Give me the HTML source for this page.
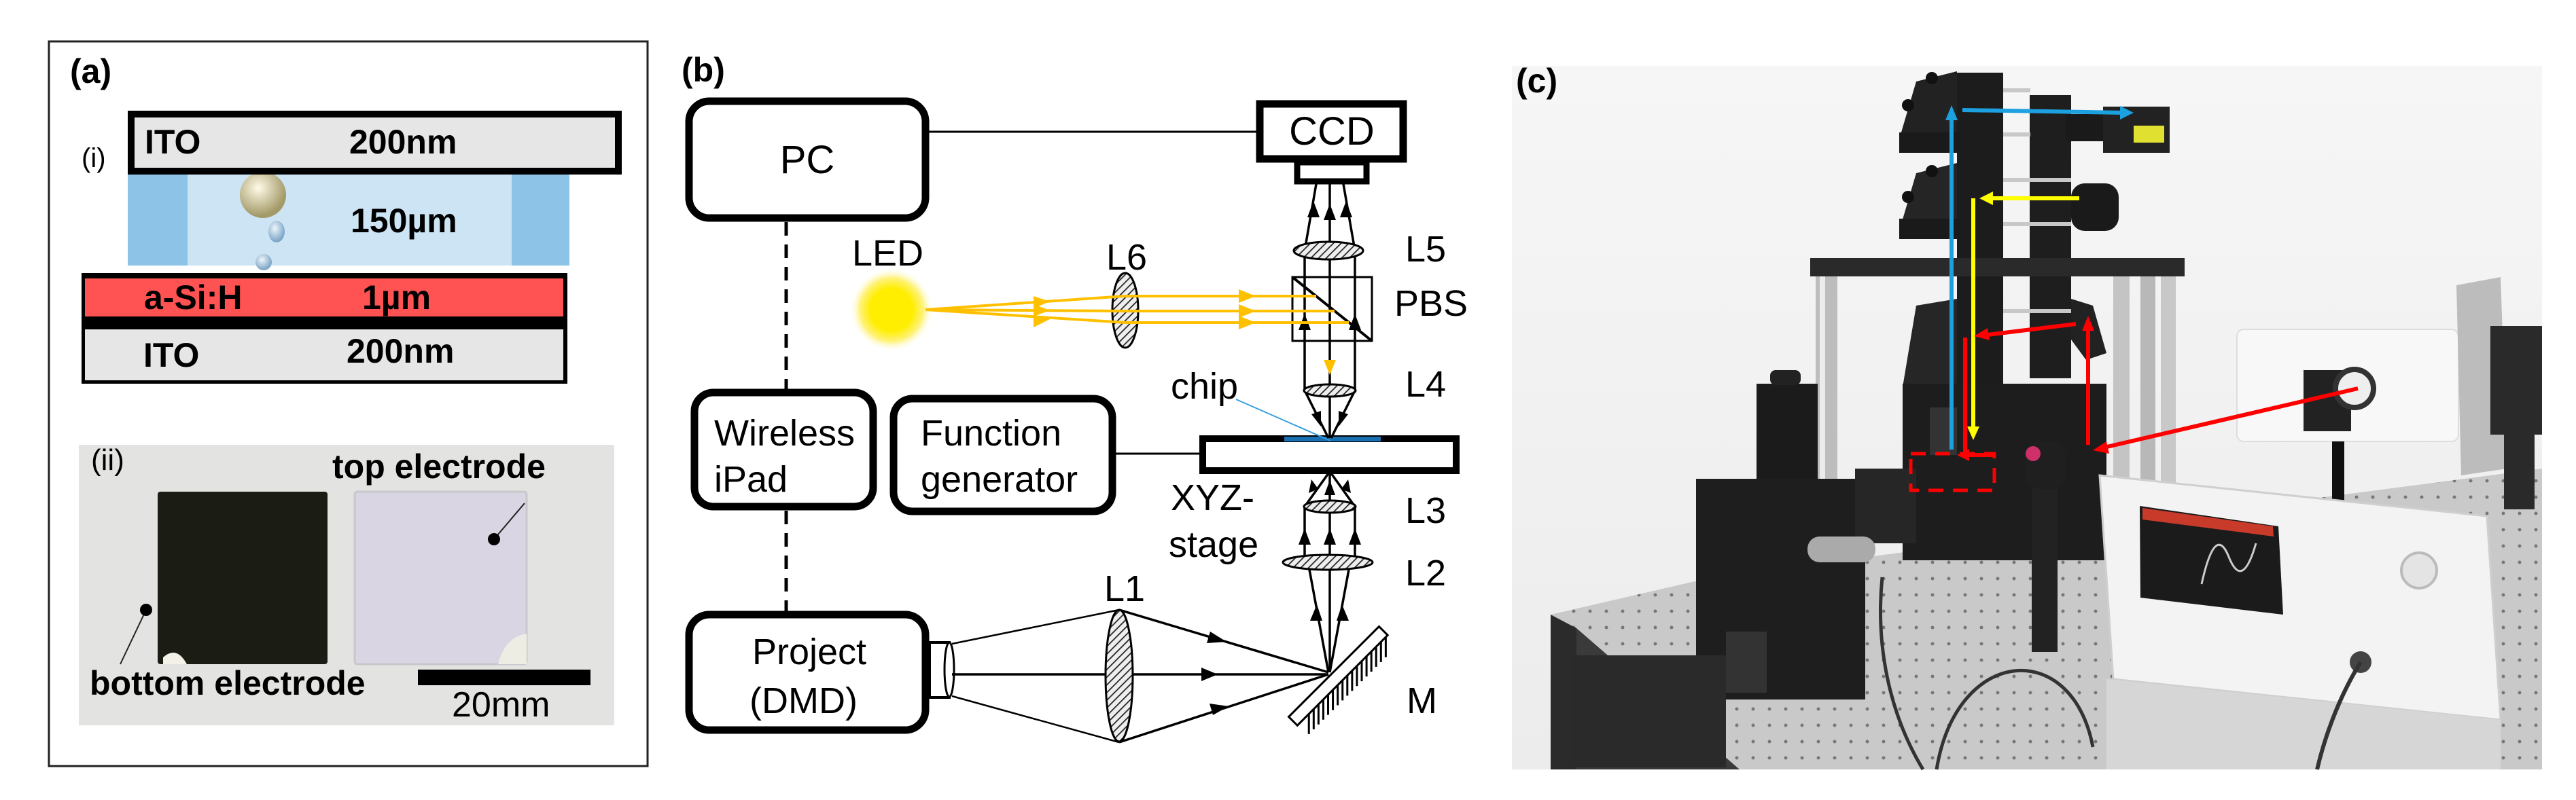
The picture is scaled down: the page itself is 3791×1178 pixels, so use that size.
<!DOCTYPE html>
<html><head><meta charset="utf-8"><style>
html,body{margin:0;padding:0;background:#fff;}
svg{display:block;}
text{font-family:"Liberation Sans",Arial,sans-serif;}
</style></head><body>
<svg width="3791" height="1178" viewBox="0 0 3791 1178" xmlns="http://www.w3.org/2000/svg">
<defs>
<pattern id="hatch" width="8" height="8" patternUnits="userSpaceOnUse" patternTransform="rotate(45)">
<rect width="8" height="8" fill="#eee"/><line x1="0" y1="0" x2="0" y2="8" stroke="#222" stroke-width="3.5"/>
</pattern>
<radialGradient id="led" cx="0.5" cy="0.5" r="0.5">
<stop offset="0" stop-color="#ffee00"/><stop offset="0.5" stop-color="#ffee00"/><stop offset="0.75" stop-color="#fff27a"/><stop offset="1" stop-color="#fff" stop-opacity="0"/>
</radialGradient>
<radialGradient id="bub" cx="0.4" cy="0.35" r="0.6"><stop offset="0" stop-color="#fffbe8"/><stop offset="1" stop-color="#a49a68"/></radialGradient>
<radialGradient id="bub2" cx="0.4" cy="0.35" r="0.6"><stop offset="0" stop-color="#eef6fc"/><stop offset="1" stop-color="#7fa7c8"/></radialGradient>
<linearGradient id="bgc" x1="0" y1="0" x2="0" y2="1"><stop offset="0" stop-color="#f6f6f6"/><stop offset="1" stop-color="#ececec"/></linearGradient>
<pattern id="holes" width="24" height="24" patternUnits="userSpaceOnUse"><rect width="24" height="24" fill="#c9c9c9"/><circle cx="12" cy="12" r="2.5" fill="#777"/></pattern>
</defs>

<!-- ============ PANEL A ============ -->
<rect x="72" y="61" width="881" height="1067" fill="#fff" stroke="#222" stroke-width="3"/>
<text x="103" y="122" font-size="50" font-weight="bold">(a)</text>
<text x="120" y="246" font-size="40">(i)</text>
<rect x="188" y="257" width="650" height="134" fill="#cde4f4"/>
<rect x="188" y="257" width="88" height="134" fill="#8dc3e6"/>
<rect x="753" y="257" width="85" height="134" fill="#8dc3e6"/>
<circle cx="387" cy="287" r="34" fill="url(#bub)"/>
<ellipse cx="407" cy="341" rx="12" ry="16" fill="url(#bub2)"/>
<ellipse cx="388" cy="386" rx="12" ry="12" fill="url(#bub2)"/>
<text x="516" y="342" font-size="50" font-weight="bold">150µm</text>
<rect x="193" y="168" width="717" height="84" fill="#e6e6e6" stroke="#000" stroke-width="10"/>
<text x="213" y="226" font-size="50" font-weight="bold">ITO</text>
<text x="514" y="226" font-size="50" font-weight="bold">200nm</text>
<rect x="120" y="402" width="715" height="163" fill="#000"/>
<rect x="125" y="410" width="704" height="56" fill="#ff5252"/>
<rect x="125" y="485" width="704" height="75" fill="#e6e6e6"/>
<text x="212" y="455" font-size="50" font-weight="bold">a-Si:H</text>
<text x="533" y="455" font-size="50" font-weight="bold">1µm</text>
<text x="211" y="540" font-size="50" font-weight="bold">ITO</text>
<text x="510" y="534" font-size="50" font-weight="bold">200nm</text>
<rect x="116" y="655" width="788" height="413" fill="#e3e3e1"/>
<text x="134" y="692" font-size="44">(ii)</text>
<rect x="232" y="724" width="250" height="254" rx="4" fill="#1b1d15"/>
<path d="M240,968 q20,-18 35,10 l-35,0z" fill="#f3f1e8"/>
<rect x="522" y="724" width="253" height="254" rx="4" fill="#d9d5e3" stroke="#c8c8cc" stroke-width="3"/>
<path d="M733,978 q10,-40 42,-45 l0,45z" fill="#eeede4"/>
<text x="489" y="704" font-size="50" font-weight="bold">top electrode</text>
<line x1="727" y1="794" x2="772" y2="741" stroke="#222" stroke-width="2"/>
<circle cx="727" cy="794" r="9" fill="#000"/>
<line x1="215" y1="898" x2="177" y2="978" stroke="#222" stroke-width="2"/>
<circle cx="215" cy="898" r="9" fill="#000"/>
<text x="132" y="1023" font-size="50" font-weight="bold">bottom electrode</text>
<rect x="615" y="986" width="254" height="23" fill="#000"/>
<text x="665" y="1055" font-size="52">20mm</text>

<!-- ============ PANEL B ============ -->
<text x="1003" y="120" font-size="50" font-weight="bold">(b)</text>
<g fill="none" stroke="#000" stroke-width="11">
<rect x="1014" y="149" width="348" height="172" rx="30"/>
<rect x="1022" y="578" width="263" height="168" rx="28"/>
<rect x="1315" y="587" width="322" height="166" rx="28"/>
<rect x="1014" y="905" width="348" height="170" rx="30"/>
<rect x="1854" y="153" width="211" height="81"/>
<rect x="1909" y="239" width="102" height="28" stroke-width="9"/>
<rect x="1770" y="646" width="373" height="47" stroke-width="10"/>
</g>
<rect x="1368" y="946" width="29" height="81" fill="#fff" stroke="#000" stroke-width="4"/>
<ellipse cx="1397" cy="986" rx="7" ry="40" fill="#fff" stroke="#000" stroke-width="3"/>
<text x="1188" y="255" font-size="58" text-anchor="middle">PC</text>
<text x="1960" y="213" font-size="58" text-anchor="middle">CCD</text>
<text x="1051" y="656" font-size="54">Wireless</text>
<text x="1051" y="724" font-size="54">iPad</text>
<text x="1355" y="656" font-size="54">Function</text>
<text x="1355" y="724" font-size="54">generator</text>
<text x="1107" y="978" font-size="54">Project</text>
<text x="1103" y="1050" font-size="54">(DMD)</text>
<line x1="1362" y1="194" x2="1854" y2="194" stroke="#000" stroke-width="3"/>
<line x1="1637" y1="668" x2="1770" y2="668" stroke="#000" stroke-width="3"/>
<line x1="1157" y1="327" x2="1157" y2="578" stroke="#000" stroke-width="5" stroke-dasharray="20,13"/>
<line x1="1157" y1="752" x2="1157" y2="905" stroke="#000" stroke-width="5" stroke-dasharray="20,13"/>
<rect x="1890" y="643" width="142" height="7" fill="#1a6fb0"/>
<line x1="1819" y1="588" x2="1958" y2="649" stroke="#3a9ee0" stroke-width="2"/>
<g font-size="54">
<text x="1254" y="391">LED</text>
<text x="1628" y="397">L6</text>
<text x="2068" y="385">L5</text>
<text x="2052" y="465">PBS</text>
<text x="2068" y="584">L4</text>
<text x="1723" y="587">chip</text>
<text x="1723" y="751">XYZ-</text>
<text x="1720" y="820">stage</text>
<text x="2068" y="770">L3</text>
<text x="2068" y="862">L2</text>
<text x="1625" y="885">L1</text>
<text x="2070" y="1050">M</text>
</g>
<g stroke="#000" stroke-width="3.5" fill="none">
<line x1="1957" y1="271" x2="1957" y2="645"/>
<line x1="1937" y1="271" x2="1920" y2="369"/>
<line x1="1977" y1="271" x2="1994" y2="369"/>
<line x1="1920" y1="369" x2="1920" y2="575"/>
<line x1="1994" y1="369" x2="1994" y2="575"/>
<line x1="1920" y1="575" x2="1955" y2="645"/>
<line x1="1994" y1="575" x2="1959" y2="645"/>
<line x1="1957" y1="697" x2="1957" y2="990"/>
<line x1="1955" y1="697" x2="1920" y2="746"/>
<line x1="1959" y1="697" x2="1994" y2="746"/>
<line x1="1920" y1="746" x2="1920" y2="828"/>
<line x1="1994" y1="746" x2="1994" y2="828"/>
<line x1="1925" y1="828" x2="1955" y2="990"/>
<line x1="1987" y1="828" x2="1957" y2="990"/>
<line x1="1401" y1="948" x2="1647" y2="898" stroke-width="2.5"/>
<line x1="1401" y1="1025" x2="1647" y2="1093" stroke-width="2.5"/>
<line x1="1401" y1="993" x2="1955" y2="993"/>
<line x1="1647" y1="898" x2="1955" y2="990"/>
<line x1="1647" y1="1093" x2="1955" y2="993"/>
</g>
<g fill="#000">
<path d="M1957,300 l-9,24 h18z"/>
<path d="M1933,296 l-9,24 h18z"/>
<path d="M1981,296 l-9,24 h18z"/>
<path d="M1920,462 l-9,24 h18z"/>
<path d="M1994,462 l-9,24 h18z"/>
<path d="M1944,628 l-14,-18 l14,-5z"/>
<path d="M1970,628 l14,-18 l-14,-5z"/>
<path d="M1930,706 l-4,20 l14,-6z"/>
<path d="M1984,706 l4,20 l-14,-6z"/>
<path d="M1957,707 l-8,22 h16z"/>
<path d="M1920,778 l-9,24 h18z"/>
<path d="M1957,778 l-9,24 h18z"/>
<path d="M1994,778 l-9,24 h18z"/>
<path d="M1938,890 l-10,24 h18z"/>
<path d="M1975,890 l-8,24 h18z"/>
<path d="M1792,993 l-24,-10 v20z"/>
<path d="M1805,945 l-24,-15 l-5,17z"/>
<path d="M1808,1040 l-23,13 l-5,-17z"/>
</g>
<rect x="1902" y="408" width="117" height="94" fill="none" stroke="#000" stroke-width="3"/>
<line x1="1902" y1="408" x2="2019" y2="502" stroke="#000" stroke-width="4"/>
<g stroke="#000" stroke-width="3" fill="url(#hatch)">
<ellipse cx="1955" cy="369" rx="51" ry="13"/>
<ellipse cx="1957" cy="575" rx="38" ry="9"/>
<ellipse cx="1957" cy="746" rx="38" ry="9"/>
<ellipse cx="1954" cy="828" rx="66" ry="11"/>
<ellipse cx="1656" cy="457" rx="19" ry="55"/>
<ellipse cx="1647" cy="995" rx="20" ry="97"/>
</g>
<g transform="translate(1963,989) rotate(-45)">
<rect x="-94" y="0" width="188" height="18" fill="#fff" stroke="#000" stroke-width="3"/>
<g stroke="#000" stroke-width="3">
<path d="M-70,18 l-21,21 M-60,18 l-21,21 M-50,18 l-21,21 M-40,18 l-21,21 M-30,18 l-21,21 M-20,18 l-21,21 M-10,18 l-21,21 M0,18 l-21,21 M10,18 l-21,21 M20,18 l-21,21 M30,18 l-21,21 M40,18 l-21,21 M50,18 l-21,21 M60,18 l-21,21 M70,18 l-21,21 M80,18 l-21,21 M90,18 l-21,21"/>
</g></g>
<circle cx="1312" cy="456" r="62" fill="url(#led)"/>
<g stroke="#ffc000" stroke-width="4" fill="none">
<line x1="1362" y1="456" x2="1656" y2="436"/>
<line x1="1362" y1="456" x2="1656" y2="458"/>
<line x1="1362" y1="456" x2="1656" y2="475"/>
<line x1="1656" y1="436" x2="1937" y2="436"/>
<line x1="1656" y1="458" x2="1964" y2="458"/>
<line x1="1656" y1="475" x2="1985" y2="475"/>
</g>
<g fill="#ffc000">
<path d="M1848,436 l-25,-10 v20z"/><path d="M1848,458 l-25,-10 v20z"/><path d="M1848,475 l-25,-10 v20z"/>
<path d="M1545,444 l-24,-8 v18z"/><path d="M1545,457 l-24,-9 v18z"/><path d="M1545,470 l-24,-6 v18z"/>
<path d="M1957,552 l-9,-22 h18z"/>
</g>

<!-- ============ PANEL C (photo approximation) ============ -->
<rect x="2225" y="97" width="1516" height="1036" fill="url(#bgc)"/>
<text x="2231" y="136" font-size="50" font-weight="bold">(c)</text>
<!-- table -->
<path d="M2282,1133 L2282,905 L2520,850 L3741,690 L3741,1133z" fill="url(#holes)"/>
<path d="M2282,905 L2320,925 L2320,1133 L2282,1133z" fill="#2b2b2b"/>
<path d="M2320,925 L2560,1133 L2320,1133z" fill="#3a3a3a"/>
<!-- posts -->
<rect x="2672" y="405" width="32" height="470" fill="#bdbdbd"/>
<rect x="2678" y="405" width="8" height="470" fill="#ececec"/>
<rect x="3110" y="405" width="24" height="460" fill="#c4c4c4"/>
<rect x="3150" y="405" width="22" height="470" fill="#b8b8b8"/>
<rect x="3180" y="405" width="22" height="470" fill="#c8c8c8"/>
<!-- top tower -->
<rect x="2880" y="107" width="68" height="300" fill="#1c1c1c"/>
<rect x="2987" y="140" width="61" height="240" fill="#1e1e1e"/>
<path d="M2820,120 L2880,105 L2880,215 L2795,215 L2795,205z" fill="#222"/>
<rect x="2795" y="195" width="90" height="30" fill="#1a1a1a"/>
<path d="M2820,255 L2880,240 L2880,340 L2795,340z" fill="#252525"/>
<rect x="2795" y="322" width="90" height="30" fill="#1a1a1a"/>
<circle cx="2843" cy="115" r="9" fill="#111"/><circle cx="2808" cy="155" r="9" fill="#111"/>
<circle cx="2843" cy="252" r="9" fill="#111"/><circle cx="2808" cy="290" r="9" fill="#111"/>
<g fill="#c8c8c8"><rect x="2948" y="195" width="40" height="6"/><rect x="2948" y="262" width="100" height="6"/><rect x="2948" y="327" width="100" height="6"/><rect x="2948" y="130" width="40" height="6"/></g>
<rect x="3040" y="168" width="60" height="40" fill="#1a1a1a"/>
<rect x="3095" y="157" width="98" height="68" fill="#222"/>
<rect x="3140" y="185" width="45" height="25" fill="#e0e030"/>
<rect x="3048" y="270" width="70" height="70" rx="20" fill="#1a1a1a"/>
<!-- platform -->
<rect x="2664" y="380" width="551" height="27" fill="#2a2a2a"/>
<!-- lower tower -->
<rect x="2880" y="407" width="68" height="200" fill="#1c1c1c"/>
<rect x="2987" y="407" width="61" height="150" fill="#1e1e1e"/>
<path d="M3048,440 L3080,450 L3100,520 L3070,530 L3048,500z" fill="#222"/>
<path d="M2820,450 L2880,440 L2880,570 L2800,570z" fill="#262626"/>
<rect x="2948" y="455" width="100" height="6" fill="#c8c8c8"/>
<!-- microscope body -->
<rect x="2800" y="565" width="300" height="260" fill="#1d1d1d"/>
<rect x="2840" y="600" width="40" height="70" fill="#333"/>
<!-- left stage -->
<rect x="2585" y="565" width="90" height="140" fill="#1b1b1b"/>
<rect x="2605" y="545" width="45" height="22" rx="8" fill="#222"/>
<path d="M2496,705 L2745,705 L2745,1030 L2496,1030z" fill="#1e1e1e"/>
<rect x="2730" y="690" width="90" height="110" fill="#262626"/>
<rect x="2660" y="790" width="100" height="38" rx="18" fill="#aaa"/>
<rect x="2540" y="930" width="60" height="90" fill="#333"/>
<rect x="2310" y="965" width="230" height="165" fill="#2a2a2a"/>
<!-- dashed red box -->
<rect x="2812" y="668" width="123" height="54" fill="none" stroke="#f00" stroke-width="5" stroke-dasharray="22,14"/>
<!-- mount post -->
<rect x="2990" y="700" width="38" height="260" fill="#222"/>
<rect x="2980" y="650" width="60" height="70" rx="20" fill="#1f1f1f"/>
<circle cx="2992" cy="668" r="11" fill="#d0306a"/>
<!-- projector -->
<rect x="3292" y="485" width="326" height="165" rx="10" fill="#f8f8f8" stroke="#ddd" stroke-width="2"/>
<rect x="3390" y="545" width="70" height="90" fill="#222"/>
<circle cx="3465" cy="572" r="28" fill="#eee" stroke="#333" stroke-width="8"/>
<rect x="3432" y="650" width="18" height="100" fill="#111"/>
<path d="M3615,420 L3680,408 L3690,690 L3622,700z" fill="#bcbcbc"/>
<rect x="3665" y="480" width="76" height="160" fill="#2a2a2a"/>
<rect x="3685" y="640" width="45" height="110" fill="#2a2a2a"/>
<!-- function generator -->
<path d="M3090,700 L3660,760 L3680,1060 L3110,1000z" fill="#f3f3f3" stroke="#cfcfcf" stroke-width="3"/>
<path d="M3149,745 L3353,775 L3360,905 L3150,880z" fill="#1b1b1b"/>
<path d="M3153,748 L3345,775 L3346,790 L3153,765z" fill="#c83a2a"/>
<path d="M3240,860 q20,-90 40,-40 q20,50 40,-20" fill="none" stroke="#ccc" stroke-width="3"/>
<path d="M3100,1000 L3680,1060 L3680,1133 L3100,1133z" fill="#d6d6d6"/>
<circle cx="3560" cy="840" r="26" fill="#e4e4e4" stroke="#bbb" stroke-width="4"/>
<circle cx="3474" cy="975" r="16" fill="#444"/>
<!-- cables -->
<path d="M2770,850 C2760,950 2780,1050 2830,1133" fill="none" stroke="#333" stroke-width="5"/>
<path d="M2850,1133 C2880,950 3050,940 3080,1100" fill="none" stroke="#333" stroke-width="5"/>
<path d="M3474,975 C3440,1030 3420,1090 3410,1133" fill="none" stroke="#333" stroke-width="6"/>
<!-- colored beam arrows -->
<g stroke-width="6" fill="none">
<line x1="2872" y1="662" x2="2872" y2="170" stroke="#1ca0e0"/>
<line x1="2888" y1="162" x2="3128" y2="166" stroke="#1ca0e0"/>
<line x1="3060" y1="292" x2="2925" y2="292" stroke="#ffff00"/>
<line x1="2904" y1="292" x2="2904" y2="635" stroke="#ffff00"/>
<line x1="3470" y1="572" x2="3092" y2="660" stroke="#f00"/>
<line x1="3073" y1="655" x2="3073" y2="480" stroke="#f00"/>
<line x1="3055" y1="477" x2="2925" y2="493" stroke="#f00"/>
<line x1="2892" y1="497" x2="2892" y2="666" stroke="#f00"/>
<line x1="2935" y1="670" x2="2890" y2="670" stroke="#f00"/>
</g>
<g>
<path d="M2872,155 l-9,22 h18z" fill="#1ca0e0"/>
<path d="M3140,166 l-20,-10 v20z" fill="#1ca0e0"/>
<path d="M2913,292 l20,-10 v20z" fill="#ffff00"/>
<path d="M2904,648 l-9,-20 h18z" fill="#ffff00"/>
<path d="M3080,663 l20,-13 l4,18z" fill="#f00"/>
<path d="M3073,465 l-9,22 h18z" fill="#f00"/>
<path d="M2905,495 l20,-12 l3,18z" fill="#f00"/>
<path d="M2880,670 l18,-9 v18z" fill="#f00"/>
</g>
</svg>
</body></html>
